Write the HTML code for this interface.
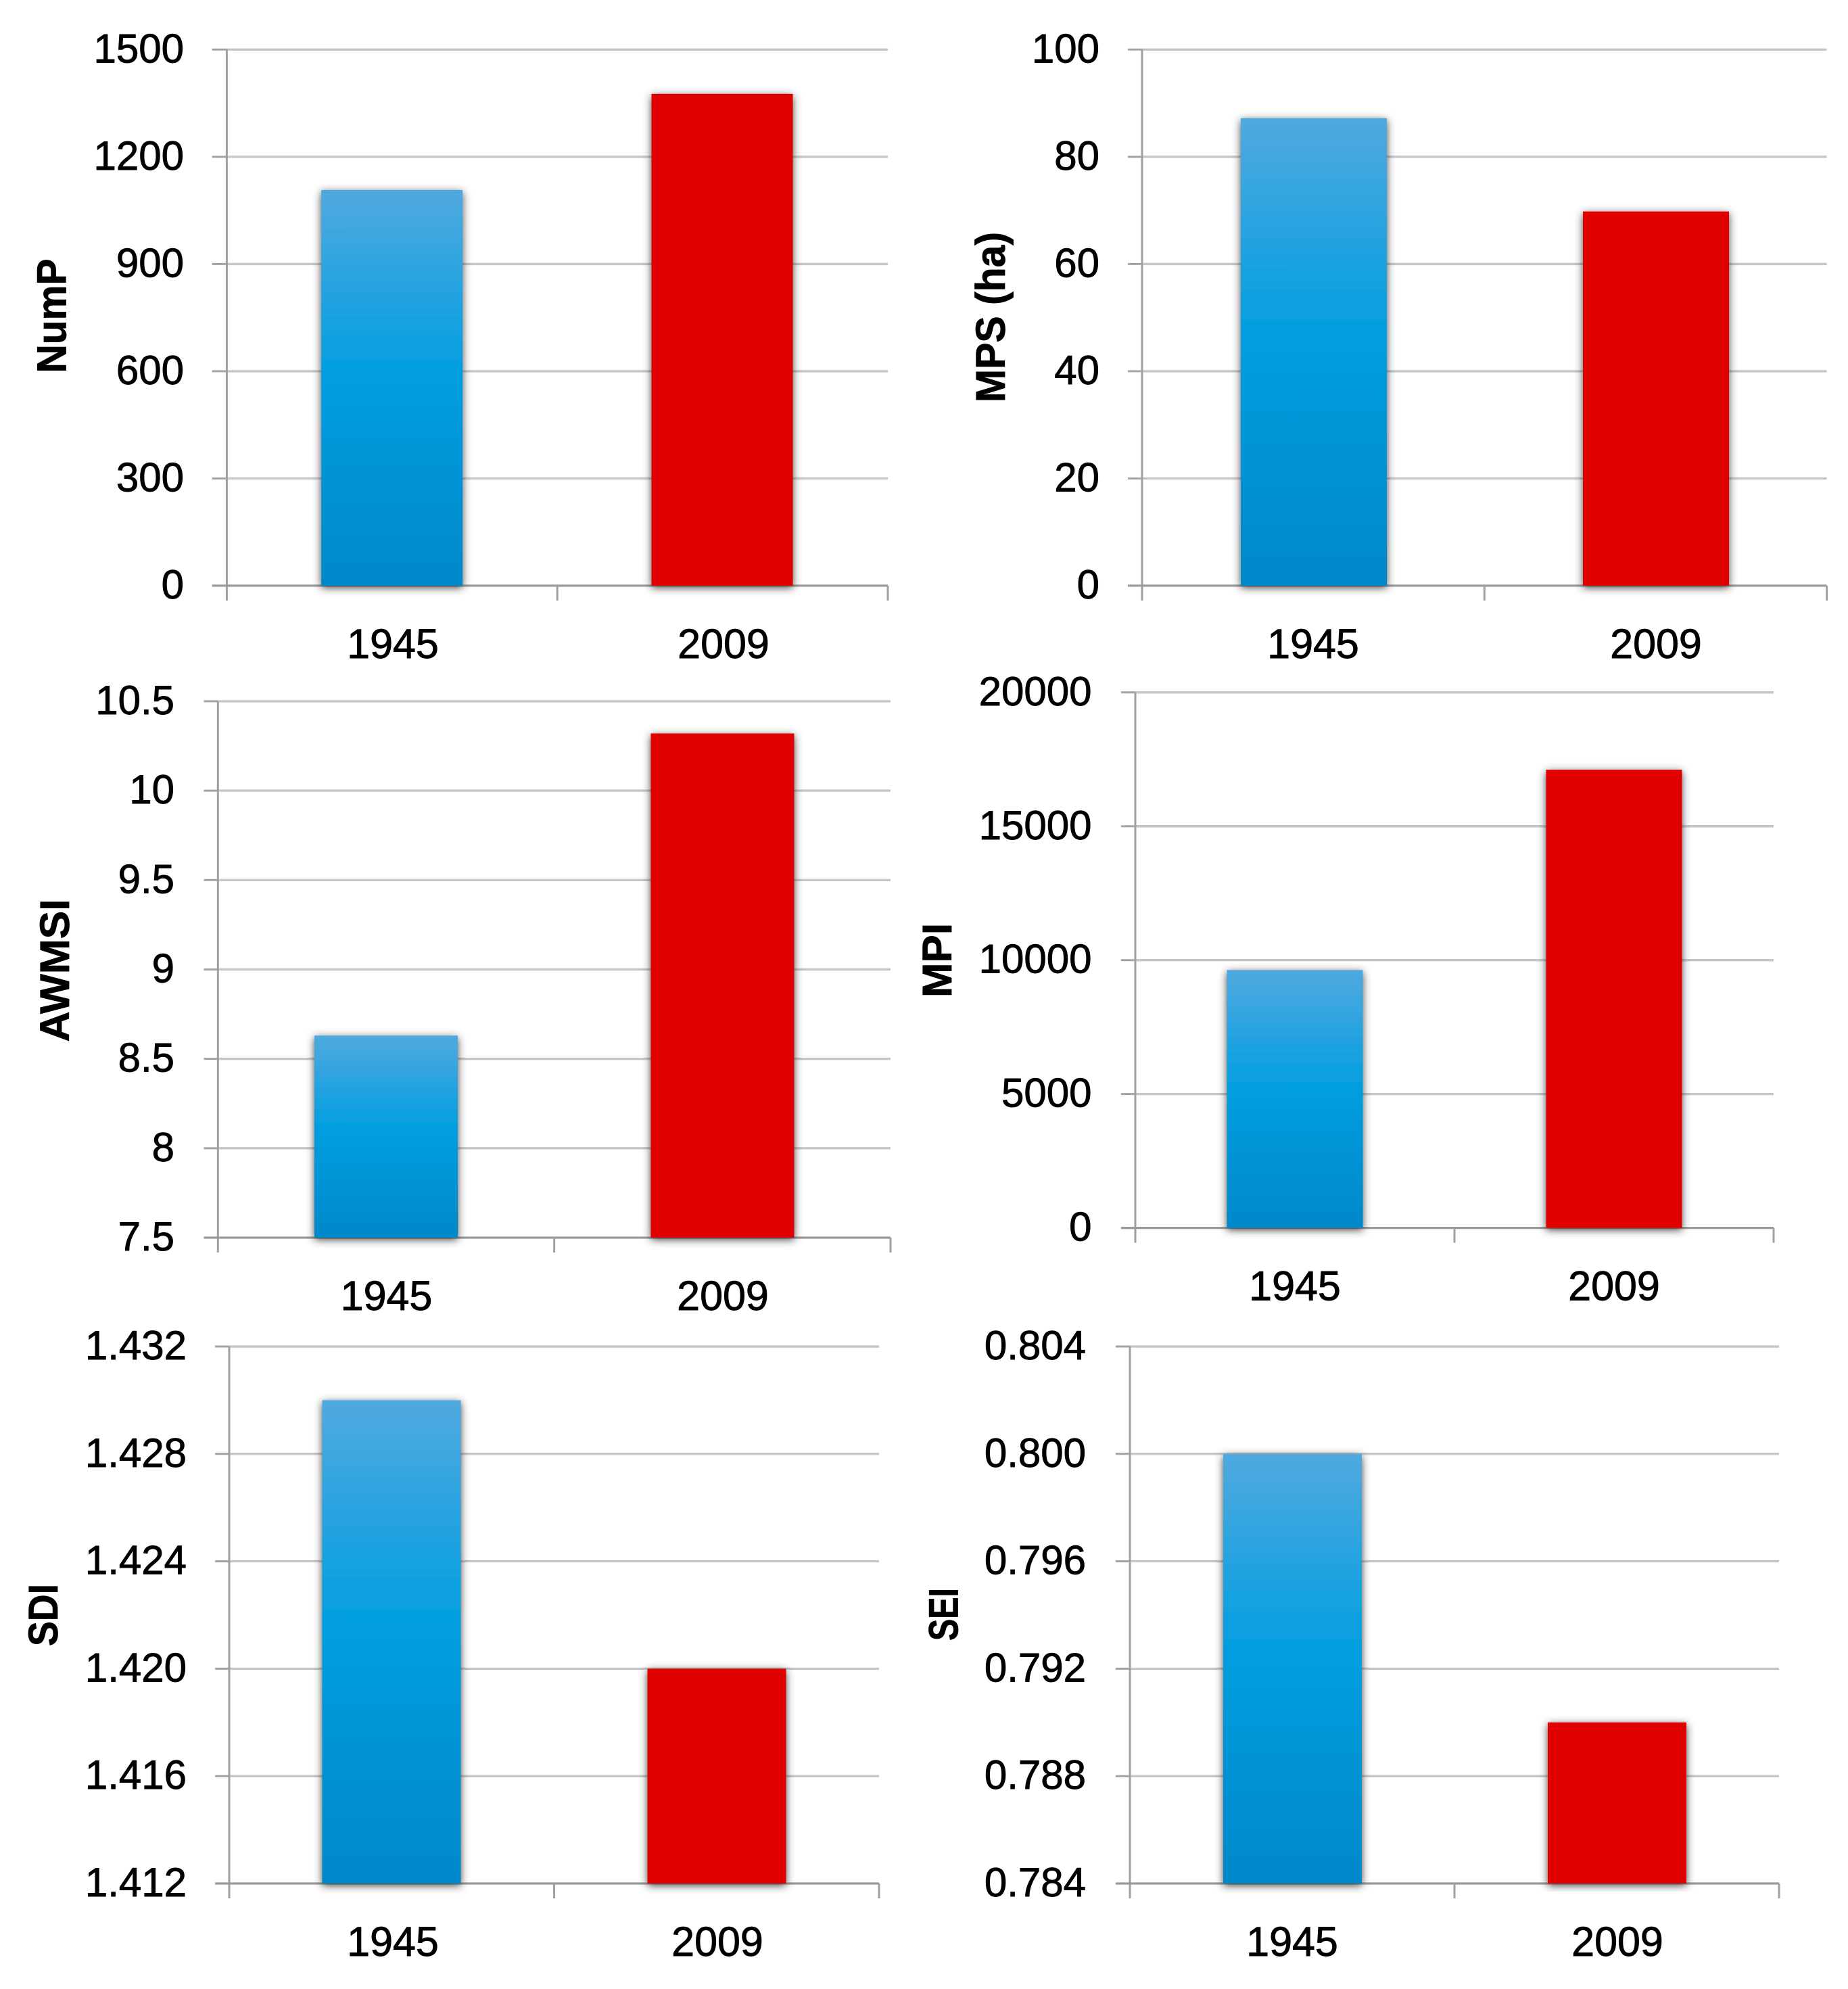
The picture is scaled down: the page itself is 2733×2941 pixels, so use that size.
<!DOCTYPE html>
<html lang="en">
<head>
<meta charset="utf-8">
<title>Landscape metrics 1945 vs 2009</title>
<style>
html,body{margin:0;padding:0;background:#fff;}
svg{display:block;}
text{font-family:"Liberation Sans",sans-serif;fill:#000;}
</style>
</head>
<body>
<svg id="figure" xmlns="http://www.w3.org/2000/svg" width="2733" height="2941" viewBox="0 0 2733 2941">
  <defs>
    <linearGradient id="blueFill" x1="0" y1="0" x2="0" y2="1">
      <stop offset="0" stop-color="#50a9df"/>
      <stop offset="0.47" stop-color="#009ee0"/>
      <stop offset="1" stop-color="#0088ca"/>
    </linearGradient>
    <filter id="barShadow" x="-20%" y="-5%" width="140%" height="110%">
      <feDropShadow dx="0" dy="3" stdDeviation="6" flood-color="#333" flood-opacity="0.9"/>
    </filter>
  </defs>
  <rect x="0" y="0" width="2733" height="2941" fill="#ffffff"/>
</svg>
<script>
// ---- data ----
const categories = ['1945', '2009'];

const numpValues = [1107, 1376];
const numpTicks = ['0', '300', '600', '900', '1200', '1500'];

const mpsValues = [87.2, 69.8];
const mpsTicks = ['0', '20', '40', '60', '80', '100'];

const awmsiValues = [8.63, 10.32];
const awmsiTicks = ['7.5', '8', '8.5', '9', '9.5', '10', '10.5'];

const mpiValues = [9630, 17110];
const mpiTicks = ['0', '5000', '10000', '15000', '20000'];

const sdiValues = [1.43, 1.42];
const sdiTicks = ['1.412', '1.416', '1.420', '1.424', '1.428', '1.432'];

const seiValues = [0.8, 0.79];
const seiTicks = ['0.784', '0.788', '0.792', '0.796', '0.800', '0.804'];

// ---- layout ----
const panels = [
  {key:'nump', title:'NumP', values:numpValues, ticks:numpTicks,
   left:335.4, right:1313, top:73.3, base:866, tickLeft:313.6, labelRight:272,
   barWidth:209, barCenters:[579.6, 1068], labelCenters:[581, 1070],
   titleX:97.5, titleY:467, titleLen:169},
  {key:'mps', title:'MPS (ha)', values:mpsValues, ticks:mpsTicks,
   left:1689, right:2701.6, top:73.3, base:866, tickLeft:1668, labelRight:1626,
   barWidth:216, barCenters:[1943, 2449], labelCenters:[1942, 2449],
   titleX:1486, titleY:469, titleLen:252},
  {key:'awmsi', title:'AWMSI', values:awmsiValues, ticks:awmsiTicks,
   left:322.3, right:1317, top:1036.9, base:1830, tickLeft:301.5, labelRight:258,
   barWidth:212, barCenters:[571, 1068.5], labelCenters:[571.5, 1069],
   titleX:102, titleY:1435, titleLen:211},
  {key:'mpi', title:'MPI', values:mpiValues, ticks:mpiTicks,
   left:1679, right:2623, top:1023.8, base:1815.6, tickLeft:1658, labelRight:1614.5,
   barWidth:201, barCenters:[1915, 2387], labelCenters:[1915, 2387],
   titleX:1407, titleY:1420, titleLen:110},
  {key:'sdi', title:'SDI', values:sdiValues, ticks:sdiTicks,
   left:339, right:1300, top:1991, base:2785, tickLeft:318, labelRight:276,
   barWidth:205, barCenters:[579, 1060], labelCenters:[581, 1061],
   titleX:85, titleY:2388, titleLen:92},
  {key:'sei', title:'SEI', values:seiValues, ticks:seiTicks,
   left:1671, right:2631, top:1991, base:2785, tickLeft:1650, labelRight:1606,
   barWidth:205, barCenters:[1911.5, 2391.5], labelCenters:[1911, 2392],
   titleX:1416.6, titleY:2387, titleLen:78}
];

const barFills = ['url(#blueFill)', '#e00000'];
const SVG_NS = 'http://www.w3.org/2000/svg';
const figure = document.getElementById('figure');

function make(tag, attrs, parent) {
  const node = document.createElementNS(SVG_NS, tag);
  for (const k in attrs) node.setAttribute(k, attrs[k]);
  parent.appendChild(node);
  return node;
}

function yScale(p, v) {
  const min = parseFloat(p.ticks[0]);
  const max = parseFloat(p.ticks[p.ticks.length - 1]);
  return p.base - (v - min) / (max - min) * (p.base - p.top);
}

panels.forEach(function (p) {
  const group = make('g', {}, figure);
  
  

  // gridlines and y ticks
  p.ticks.forEach(function (label, i) {
    const y = yScale(p, parseFloat(label));
    if (i > 0) {
      const grid = make('line', {x1:p.left, x2:p.right, y1:y, y2:y, stroke:'#c6c6c6', 'stroke-width':3.4}, group);
      
      
    }
    const tick = make('line', {x1:p.tickLeft, x2:p.left, y1:y, y2:y, stroke:'#a3a3a3', 'stroke-width':3}, group);
    
    
    const text = make('text', {x:p.labelRight, y:y + 19, 'text-anchor':'end', 'font-size':60, stroke:'#000', 'stroke-width':0.9}, group);
    text.textContent = label;
    
    
  });

  // axes
  const yAxis = make('line', {x1:p.left, x2:p.left, y1:p.top, y2:p.base + 22, stroke:'#a0a0a0', 'stroke-width':3}, group);
  
  

  const xAxis = make('line', {x1:p.tickLeft, x2:p.right, y1:p.base, y2:p.base, stroke:'#9a9a9a', 'stroke-width':3.2}, group);
  
  

  [1, 2].forEach(function (n) {
    const x = p.left + (p.right - p.left) * n / categories.length;
    const xt = make('line', {x1:x, x2:x, y1:p.base, y2:p.base + 22, stroke:'#a0a0a0', 'stroke-width':3}, group);
    
    
  });

  // bars and category labels
  categories.forEach(function (cat, i) {
    const top = yScale(p, p.values[i]);
    const bar = make('rect', {
      x:p.barCenters[i] - p.barWidth / 2, y:top,
      width:p.barWidth, height:p.base - top,
      fill:barFills[i], filter:'url(#barShadow)'
    }, group);
    
    

    const lab = make('text', {x:p.labelCenters[i], y:p.base + 107, 'text-anchor':'middle', 'font-size':61, stroke:'#000', 'stroke-width':0.9}, group);
    lab.textContent = cat;
    
    
  });

  // y-axis title
  const title = make('text', {
    x:0, y:0, 'text-anchor':'middle', 'font-size':61, 'font-weight':'bold',
    stroke:'#000', 'stroke-width':0.8,
    textLength:p.titleLen, lengthAdjust:'spacingAndGlyphs',
    transform:'translate(' + p.titleX + ' ' + p.titleY + ') rotate(-90)'
  }, group);
  title.textContent = p.title;
  
  
});
</script>
</body>
</html>
